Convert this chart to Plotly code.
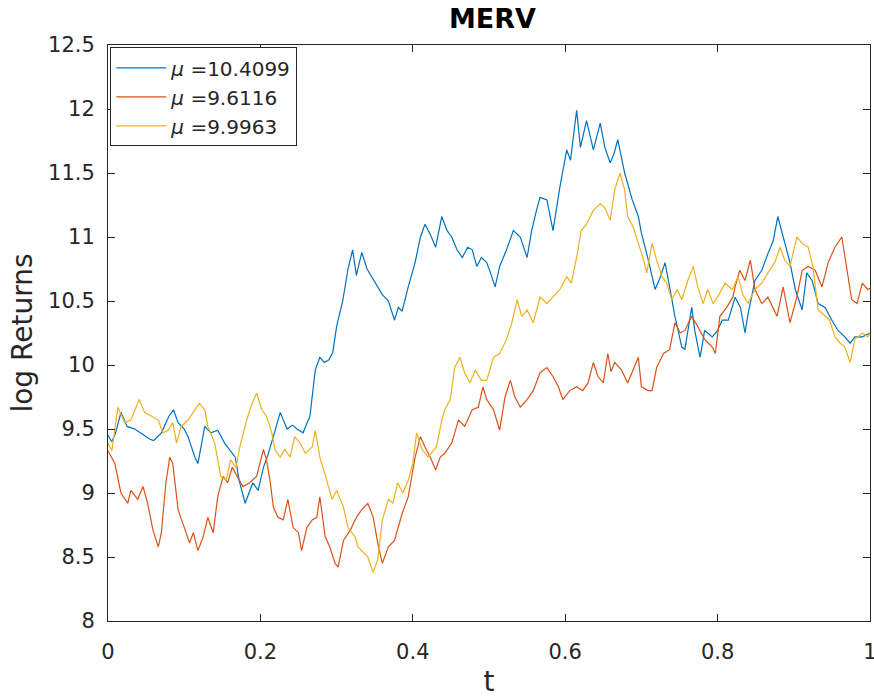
import plotly.graph_objects as go

t_blue = [0.0,0.005,0.01,0.017,0.025,0.035,0.045,0.055,0.06,0.07,0.08,0.086,0.092,0.1,0.105,0.114,0.118,0.127,0.135,0.144,0.153,0.16,0.167,0.172,0.18,0.19,0.197,0.204,0.21,0.217,0.226,0.235,0.242,0.248,0.256,0.265,0.272,0.278,0.284,0.29,0.295,0.3,0.308,0.315,0.321,0.326,0.333,0.34,0.346,0.354,0.36,0.368,0.376,0.381,0.386,0.394,0.403,0.41,0.416,0.423,0.43,0.438,0.445,0.451,0.458,0.465,0.472,0.478,0.484,0.49,0.497,0.502,0.508,0.514,0.523,0.532,0.541,0.55,0.556,0.562,0.567,0.576,0.584,0.593,0.602,0.607,0.615,0.62,0.628,0.637,0.646,0.652,0.659,0.664,0.669,0.678,0.688,0.696,0.7,0.707,0.714,0.718,0.725,0.731,0.737,0.744,0.753,0.757,0.766,0.77,0.777,0.783,0.793,0.8,0.806,0.814,0.823,0.83,0.836,0.84,0.849,0.858,0.866,0.873,0.879,0.888,0.895,0.902,0.911,0.917,0.924,0.932,0.941,0.95,0.958,0.967,0.974,0.98,0.99,1.0]
v_blue = [9.45,9.4,9.47,9.63,9.52,9.5,9.46,9.42,9.41,9.47,9.6,9.65,9.55,9.5,9.44,9.28,9.23,9.52,9.47,9.49,9.39,9.33,9.28,9.1,8.92,9.08,9.02,9.2,9.3,9.44,9.63,9.5,9.53,9.5,9.47,9.6,9.96,10.06,10.02,10.04,10.1,10.3,10.5,10.75,10.9,10.7,10.88,10.75,10.69,10.61,10.55,10.5,10.35,10.45,10.42,10.61,10.8,11.0,11.1,11.02,10.92,11.16,11.05,11.0,10.9,10.84,10.92,10.9,10.77,10.84,10.8,10.72,10.61,10.77,10.9,11.05,11.0,10.84,11.05,11.2,11.31,11.29,11.05,11.39,11.68,11.6,11.99,11.7,11.91,11.68,11.89,11.7,11.58,11.65,11.76,11.5,11.29,11.16,11.03,10.87,10.69,10.59,10.69,10.8,10.61,10.38,10.14,10.12,10.45,10.27,10.06,10.27,10.22,10.27,10.35,10.35,10.53,10.45,10.25,10.4,10.66,10.74,10.87,10.97,11.16,10.95,10.8,10.59,10.43,10.72,10.66,10.48,10.45,10.35,10.27,10.22,10.17,10.22,10.22,10.25]

t_red = [0.0,0.005,0.009,0.017,0.026,0.03,0.039,0.046,0.052,0.059,0.066,0.07,0.076,0.081,0.085,0.092,0.098,0.107,0.112,0.118,0.125,0.131,0.138,0.144,0.151,0.157,0.163,0.17,0.177,0.186,0.195,0.204,0.208,0.213,0.217,0.223,0.23,0.236,0.243,0.25,0.254,0.261,0.268,0.274,0.278,0.285,0.291,0.298,0.302,0.309,0.318,0.326,0.333,0.341,0.348,0.354,0.36,0.368,0.376,0.386,0.394,0.403,0.41,0.416,0.423,0.43,0.436,0.442,0.451,0.46,0.468,0.478,0.486,0.492,0.497,0.506,0.514,0.521,0.528,0.534,0.541,0.55,0.558,0.567,0.576,0.584,0.591,0.597,0.606,0.615,0.623,0.63,0.637,0.643,0.65,0.656,0.66,0.665,0.674,0.682,0.689,0.696,0.7,0.709,0.714,0.72,0.729,0.737,0.744,0.751,0.757,0.766,0.774,0.783,0.793,0.797,0.803,0.812,0.82,0.823,0.829,0.836,0.843,0.849,0.858,0.866,0.878,0.886,0.895,0.904,0.911,0.919,0.928,0.937,0.945,0.954,0.963,0.97,0.976,0.983,0.99,0.997,1.0]
v_red = [9.33,9.28,9.23,9.0,8.92,9.02,8.95,9.05,8.92,8.71,8.58,8.69,9.08,9.28,9.23,8.87,8.77,8.61,8.69,8.55,8.66,8.81,8.69,8.97,9.13,9.08,9.2,9.12,9.05,9.08,9.13,9.34,9.26,9.08,8.89,8.81,8.79,8.95,8.73,8.69,8.55,8.73,8.79,8.81,8.97,8.66,8.58,8.45,8.42,8.63,8.71,8.81,8.87,8.92,8.81,8.61,8.45,8.58,8.63,8.84,8.97,9.28,9.44,9.36,9.28,9.18,9.28,9.31,9.39,9.57,9.52,9.65,9.67,9.83,9.73,9.65,9.49,9.75,9.88,9.75,9.67,9.73,9.8,9.94,9.98,9.91,9.83,9.73,9.8,9.83,9.8,9.86,10.02,9.91,9.86,10.09,9.95,10.02,9.96,9.86,9.96,10.06,9.83,9.8,9.8,9.98,10.09,10.12,10.33,10.25,10.27,10.38,10.3,10.2,10.14,10.09,10.38,10.45,10.53,10.61,10.74,10.66,10.82,10.59,10.48,10.53,10.38,10.61,10.33,10.53,10.74,10.77,10.74,10.61,10.8,10.92,11.0,10.72,10.51,10.48,10.64,10.59,10.6]

t_yellow = [0.0,0.005,0.013,0.022,0.03,0.041,0.048,0.057,0.066,0.072,0.079,0.085,0.09,0.096,0.105,0.114,0.12,0.127,0.131,0.14,0.148,0.155,0.161,0.168,0.173,0.182,0.189,0.195,0.202,0.208,0.215,0.219,0.226,0.232,0.239,0.245,0.252,0.259,0.268,0.272,0.278,0.287,0.294,0.3,0.309,0.315,0.324,0.328,0.333,0.341,0.348,0.354,0.36,0.368,0.374,0.38,0.387,0.394,0.4,0.405,0.412,0.42,0.431,0.438,0.442,0.449,0.455,0.462,0.468,0.475,0.482,0.49,0.497,0.506,0.514,0.523,0.53,0.537,0.543,0.55,0.558,0.567,0.576,0.584,0.593,0.602,0.608,0.615,0.621,0.628,0.637,0.646,0.652,0.659,0.665,0.672,0.678,0.682,0.689,0.696,0.702,0.707,0.714,0.72,0.727,0.733,0.74,0.747,0.753,0.761,0.768,0.774,0.781,0.787,0.794,0.8,0.81,0.819,0.827,0.833,0.84,0.849,0.858,0.866,0.875,0.882,0.888,0.895,0.904,0.911,0.919,0.925,0.932,0.938,0.947,0.954,0.961,0.967,0.974,0.98,0.99,0.997,1.0]
v_yellow = [9.39,9.33,9.67,9.55,9.57,9.73,9.63,9.6,9.57,9.47,9.49,9.55,9.39,9.52,9.57,9.65,9.7,9.65,9.52,9.39,9.13,9.1,9.26,9.2,9.36,9.57,9.7,9.78,9.65,9.6,9.47,9.34,9.28,9.34,9.28,9.44,9.39,9.31,9.36,9.49,9.28,9.1,8.95,9.02,8.89,8.73,8.66,8.58,8.55,8.5,8.38,8.48,8.79,8.95,8.92,9.08,9.0,9.1,9.23,9.47,9.34,9.28,9.36,9.57,9.65,9.73,9.98,10.06,9.94,9.86,9.96,9.88,9.88,10.06,10.09,10.2,10.33,10.51,10.38,10.43,10.33,10.53,10.48,10.53,10.59,10.69,10.64,10.84,11.05,11.1,11.21,11.26,11.23,11.13,11.37,11.5,11.37,11.16,11.08,10.95,10.84,10.72,10.95,10.82,10.69,10.64,10.51,10.59,10.51,10.66,10.77,10.61,10.48,10.59,10.48,10.53,10.64,10.59,10.69,10.55,10.48,10.59,10.64,10.72,10.8,10.92,10.82,10.77,11.0,10.95,10.92,10.77,10.43,10.4,10.35,10.22,10.17,10.14,10.02,10.2,10.25,10.22,10.25]

names = ["<i>μ</i> =10.4099", "<i>μ</i> =9.6116", "<i>μ</i> =9.9963"]
colors = ["#0072BD", "#D95319", "#EDB120"]

y_ticks = [8, 8.5, 9, 9.5, 10, 10.5, 11, 11.5, 12, 12.5]
y_labels = ["8", "8.5", "9", "9.5", "10", "10.5", "11", "11.5", "12", "12.5"]
x_ticks = [0, 0.2, 0.4, 0.6, 0.8, 1]
x_labels = ["0", "0.2", "0.4", "0.6", "0.8", "1"]

fig = go.Figure()
for t, v, n, c in zip([t_blue, t_red, t_yellow], [v_blue, v_red, v_yellow], names, colors):
    fig.add_trace(go.Scatter(x=t, y=v, mode="lines", name=n,
                             line=dict(color=c, width=1.2)))

axis_common = dict(showgrid=False, zeroline=False, showline=True, mirror="ticks",
                   linecolor="#262626", linewidth=1, ticks="inside", ticklen=7,
                   tickcolor="#262626", ticklabeloverflow="allow", automargin=False,
                   tickfont=dict(family="DejaVu Sans", size=21, color="#262626"))

fig.update_layout(
    width=874, height=698,
    margin=dict(l=108, r=4, t=45, b=77),
    paper_bgcolor="white", plot_bgcolor="white",
    title=dict(text="<b>MERV</b>", x=0.5635, xanchor="center", y=0.974, yanchor="middle",
               font=dict(family="DejaVu Sans", size=27, color="black")),
    xaxis=dict(range=[0, 1], tickvals=x_ticks, ticktext=x_labels, ticklabelstandoff=12,
               title=dict(text="t", font=dict(family="DejaVu Sans", size=28, color="#262626"), standoff=10),
               **axis_common),
    yaxis=dict(range=[8, 12.5], tickvals=y_ticks, ticktext=y_labels, ticklabelstandoff=8,
               title=dict(text="log Returns", font=dict(family="DejaVu Sans", size=28, color="#262626"), standoff=7),
               **axis_common),
    legend=dict(x=0.003, y=0.996, xanchor="left", yanchor="top",
                bordercolor="#262626", borderwidth=1, bgcolor="white",
                font=dict(family="DejaVu Sans", size=20, color="#262626"),
                tracegroupgap=0, itemwidth=50),
    showlegend=True,
)

fig.write_html("out.html")
